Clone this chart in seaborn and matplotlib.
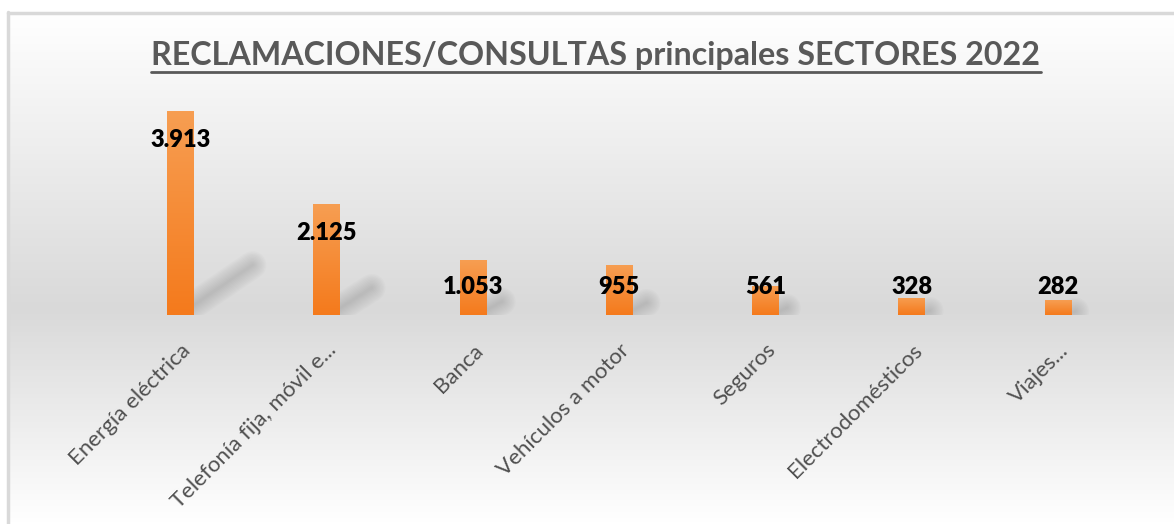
import matplotlib
matplotlib.use("Agg")
import matplotlib.pyplot as plt
from matplotlib.colors import LinearSegmentedColormap
from matplotlib.lines import Line2D
import numpy as np
import pandas as pd
import seaborn as sns

# datos
sectores = ["Energía eléctrica", "Telefonía fija, móvil e...", "Banca",
            "Vehículos a motor", "Seguros", "Electrodomésticos", "Viajes..."]
valores = [3913, 2125, 1053, 955, 561, 328, 282]
etiquetas = ["3.913", "2.125", "1.053", "955", "561", "328", "282"]
titulo = "RECLAMACIONES/CONSULTAS principales SECTORES 2022"

df = pd.DataFrame({"sector": sectores, "valor": valores})

sns.set_theme(style="white")
plt.rcParams['font.family'] = ['Lato', 'DejaVu Sans']

fig = plt.figure(figsize=(11.74, 5.24), dpi=100)
W, H = 1174, 524

# fondo con degradado (blanco - gris - blanco) y marco
bg = fig.add_axes([7 / W, 0, 1 - 7 / W, (H - 12) / H], zorder=0)
fondo = LinearSegmentedColormap.from_list(
    "fondo", [(0, "#ffffff"), (0.58, "#d9d9d9"), (1, "#ffffff")])
bg.imshow(np.linspace(0, 1, 256).reshape(-1, 1), cmap=fondo, aspect="auto",
          extent=[0, 1, 0, 1])
bg.set_xlim(0, 1)
bg.set_ylim(0, 1)
bg.set_axis_off()
fig.add_artist(Line2D([7.5 / W, 7.5 / W], [0, (H - 12) / H], color="#d9d9d9", lw=2.5))
fig.add_artist(Line2D([7.5 / W, 1], [(H - 12.5) / H] * 2, color="#d9d9d9", lw=2.5))

# grafico de barras
ax = fig.add_axes([107 / W, 209 / H, 1024 / W, 208.5 / H], zorder=2)
ax.patch.set_alpha(0)
sns.barplot(data=df, x="sector", y="valor", color="#f5862e", width=0.18,
            saturation=1, linewidth=0, ax=ax)

# degradado naranja en cada barra
naranja = LinearSegmentedColormap.from_list("naranja", ["#f47a1c", "#f79e52"])
grad = np.linspace(0, 1, 128).reshape(-1, 1)
for p in ax.patches:
    x0, w, h = p.get_x(), p.get_width(), p.get_height()
    im = ax.imshow(grad, cmap=naranja, origin="lower", aspect="auto",
                   extent=[x0, x0 + w, 0, h], zorder=3)
    im.set_clip_path(p)
    # sombra difusa en perspectiva
    hx = 0.29 * h * (208.5 / 4000) / 146.3
    hy = 0.245 * h
    for lw in range(2, 22, 2):
        ax.plot([x0 + w * 0.8, x0 + w + hx], [h * 0.03, hy], color="#666666",
                lw=lw, alpha=0.028, solid_capstyle="round", zorder=1)
ax.set_xlim(-0.5, len(sectores) - 0.5)
ax.set_ylim(0, 4000)

# etiquetas de datos
for i, (v, t) in enumerate(zip(valores, etiquetas)):
    y = max(v - 560, 540)
    ax.text(i, y, t, ha="center", va="center", fontsize=17,
            fontweight="heavy", color="black", zorder=5)

ax.set_xlabel("")
ax.set_ylabel("")
ax.set_yticks([])
ax.tick_params(axis="x", length=0, pad=18)
plt.setp(ax.get_xticklabels(), rotation=45, ha="right", rotation_mode="anchor",
         fontsize=16, color="#505050")
sns.despine(ax=ax, left=True, bottom=True)

# titulo subrayado
tt = fig.text(596 / W, 1 - 55 / H, titulo, ha="center", va="center",
              fontsize=23.2, fontweight="bold", color="#595959", zorder=5)
fig.canvas.draw()
bb = tt.get_window_extent().transformed(fig.transFigure.inverted())
fig.add_artist(Line2D([bb.x0, bb.x1], [1 - 72 / H] * 2, color="#595959", lw=2))

fig.savefig("out.png", dpi=100)
